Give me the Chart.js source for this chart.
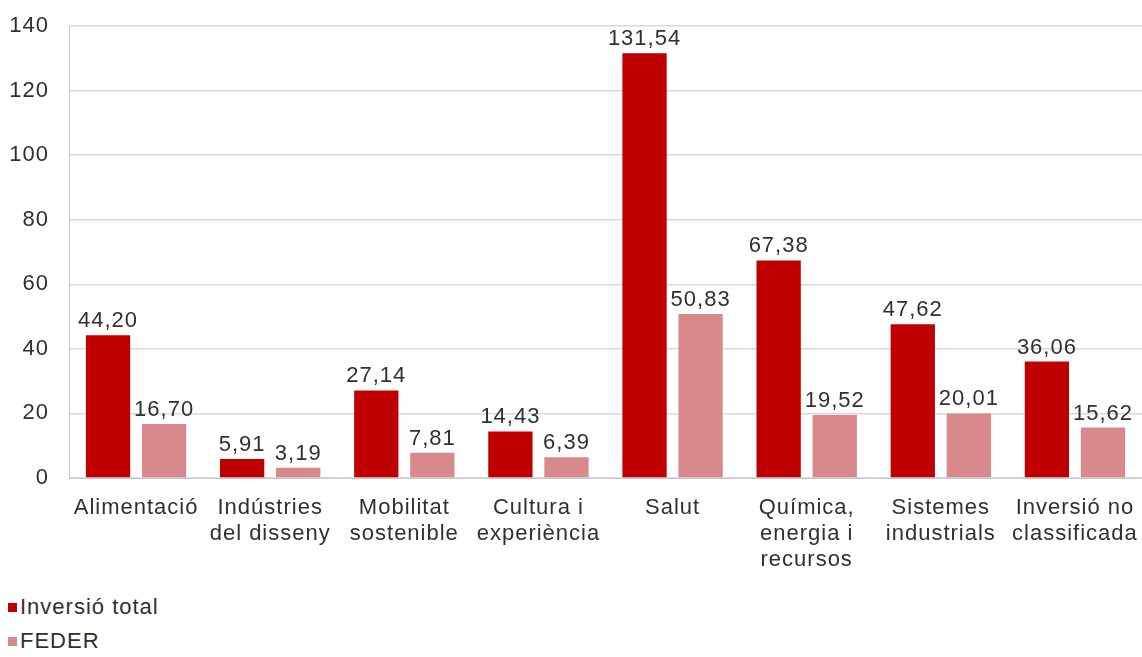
<!DOCTYPE html>
<html><head><meta charset="utf-8">
<script src="https://cdn.jsdelivr.net/npm/chart.js@4"></script>
<style>
html,body{margin:0;padding:0;background:#fff;}
#wrap{position:relative;width:1142px;height:657px;}
#c{position:absolute;left:0;top:0;}
.leg{position:absolute;left:8px;font-family:"Liberation Sans",Arial,sans-serif;font-size:22px;line-height:26px;letter-spacing:1px;color:#303030;display:flex;align-items:center;}
.leg span.b{display:inline-block;width:9px;height:9px;margin-right:3px;}
</style></head>
<body><div id="wrap"><canvas id="c" width="1142" height="590"></canvas>
<div class="leg" style="top:594px"><span class="b" style="background:#C00000"></span>Inversió total</div>
<div class="leg" style="top:628px"><span class="b" style="background:#D9898C"></span>FEDER</div>
</div>
<script>
const categories = ["Alimentació", ["Indústries","del disseny"], ["Mobilitat","sostenible"], ["Cultura i","experiència"], "Salut", ["Química,","energia i","recursos"], ["Sistemes","industrials"], ["Inversió no","classificada"]];
const inversioTotal = [44.20, 5.91, 27.14, 14.43, 131.54, 67.38, 47.62, 36.06];
const feder = [16.70, 3.19, 7.81, 6.39, 50.83, 19.52, 20.01, 15.62];
const seriesNames = ["Inversió total", "FEDER"];

const FONT = '"Liberation Sans", Arial, sans-serif';
const TXT = '#303030';
const fmt = v => v.toFixed(2).replace('.', ',');
const spacingPlugin = {
  id: 'spacing',
  beforeDraw(chart) { chart.ctx.letterSpacing = '1px'; }
};
const labelPlugin = {
  id: 'vals',
  afterDatasetsDraw(chart) {
    const ctx = chart.ctx;
    ctx.save();
    ctx.font = '22px ' + FONT;
    ctx.letterSpacing = '1px';
    ctx.fillStyle = TXT;
    ctx.textAlign = 'center';
    ctx.textBaseline = 'alphabetic';
    chart.data.datasets.forEach((ds, i) => {
      chart.getDatasetMeta(i).data.forEach((bar, j) => {
        ctx.fillText(fmt(ds.data[j]), bar.x, bar.y - 8);
      });
    });
    ctx.restore();
  }
};

new Chart(document.getElementById('c'), {
  type: 'bar',
  data: {
    labels: categories,
    datasets: [
      { label: seriesNames[0], data: inversioTotal, backgroundColor: '#C00000' },
      { label: seriesNames[1], data: feder, backgroundColor: '#D9898C' }
    ]
  },
  options: {
    responsive: false,
    animation: false,
    layout: { padding: { top: 26, right: 0, left: 0, bottom: 0 } },
    datasets: { bar: { categoryPercentage: 0.836, barPercentage: 0.79 } },
    plugins: { legend: { display: false }, tooltip: { enabled: false } },
    scales: {
      x: {
        grid: { display: false, drawTicks: false },
        border: { color: '#c8c8c8' },
        afterFit(s) { s.height = 112; s.paddingLeft = 0; s.paddingRight = 0; },
        ticks: { color: TXT, font: { size: 22, lineHeight: 1.18, family: FONT }, padding: 17, maxRotation: 0, autoSkip: false }
      },
      y: {
        min: 0, max: 140,
        afterFit(s) { s.width = 69; s.paddingTop = 0; s.paddingBottom = 0; },
        ticks: { stepSize: 20, color: TXT, font: { size: 22, family: FONT }, padding: 20 },
        grid: { color: '#d9d9d9', drawTicks: false, lineWidth: 1.5 },
        border: { color: '#c8c8c8', display: true }
      }
    }
  },
  plugins: [spacingPlugin, labelPlugin]
});
</script></body></html>
